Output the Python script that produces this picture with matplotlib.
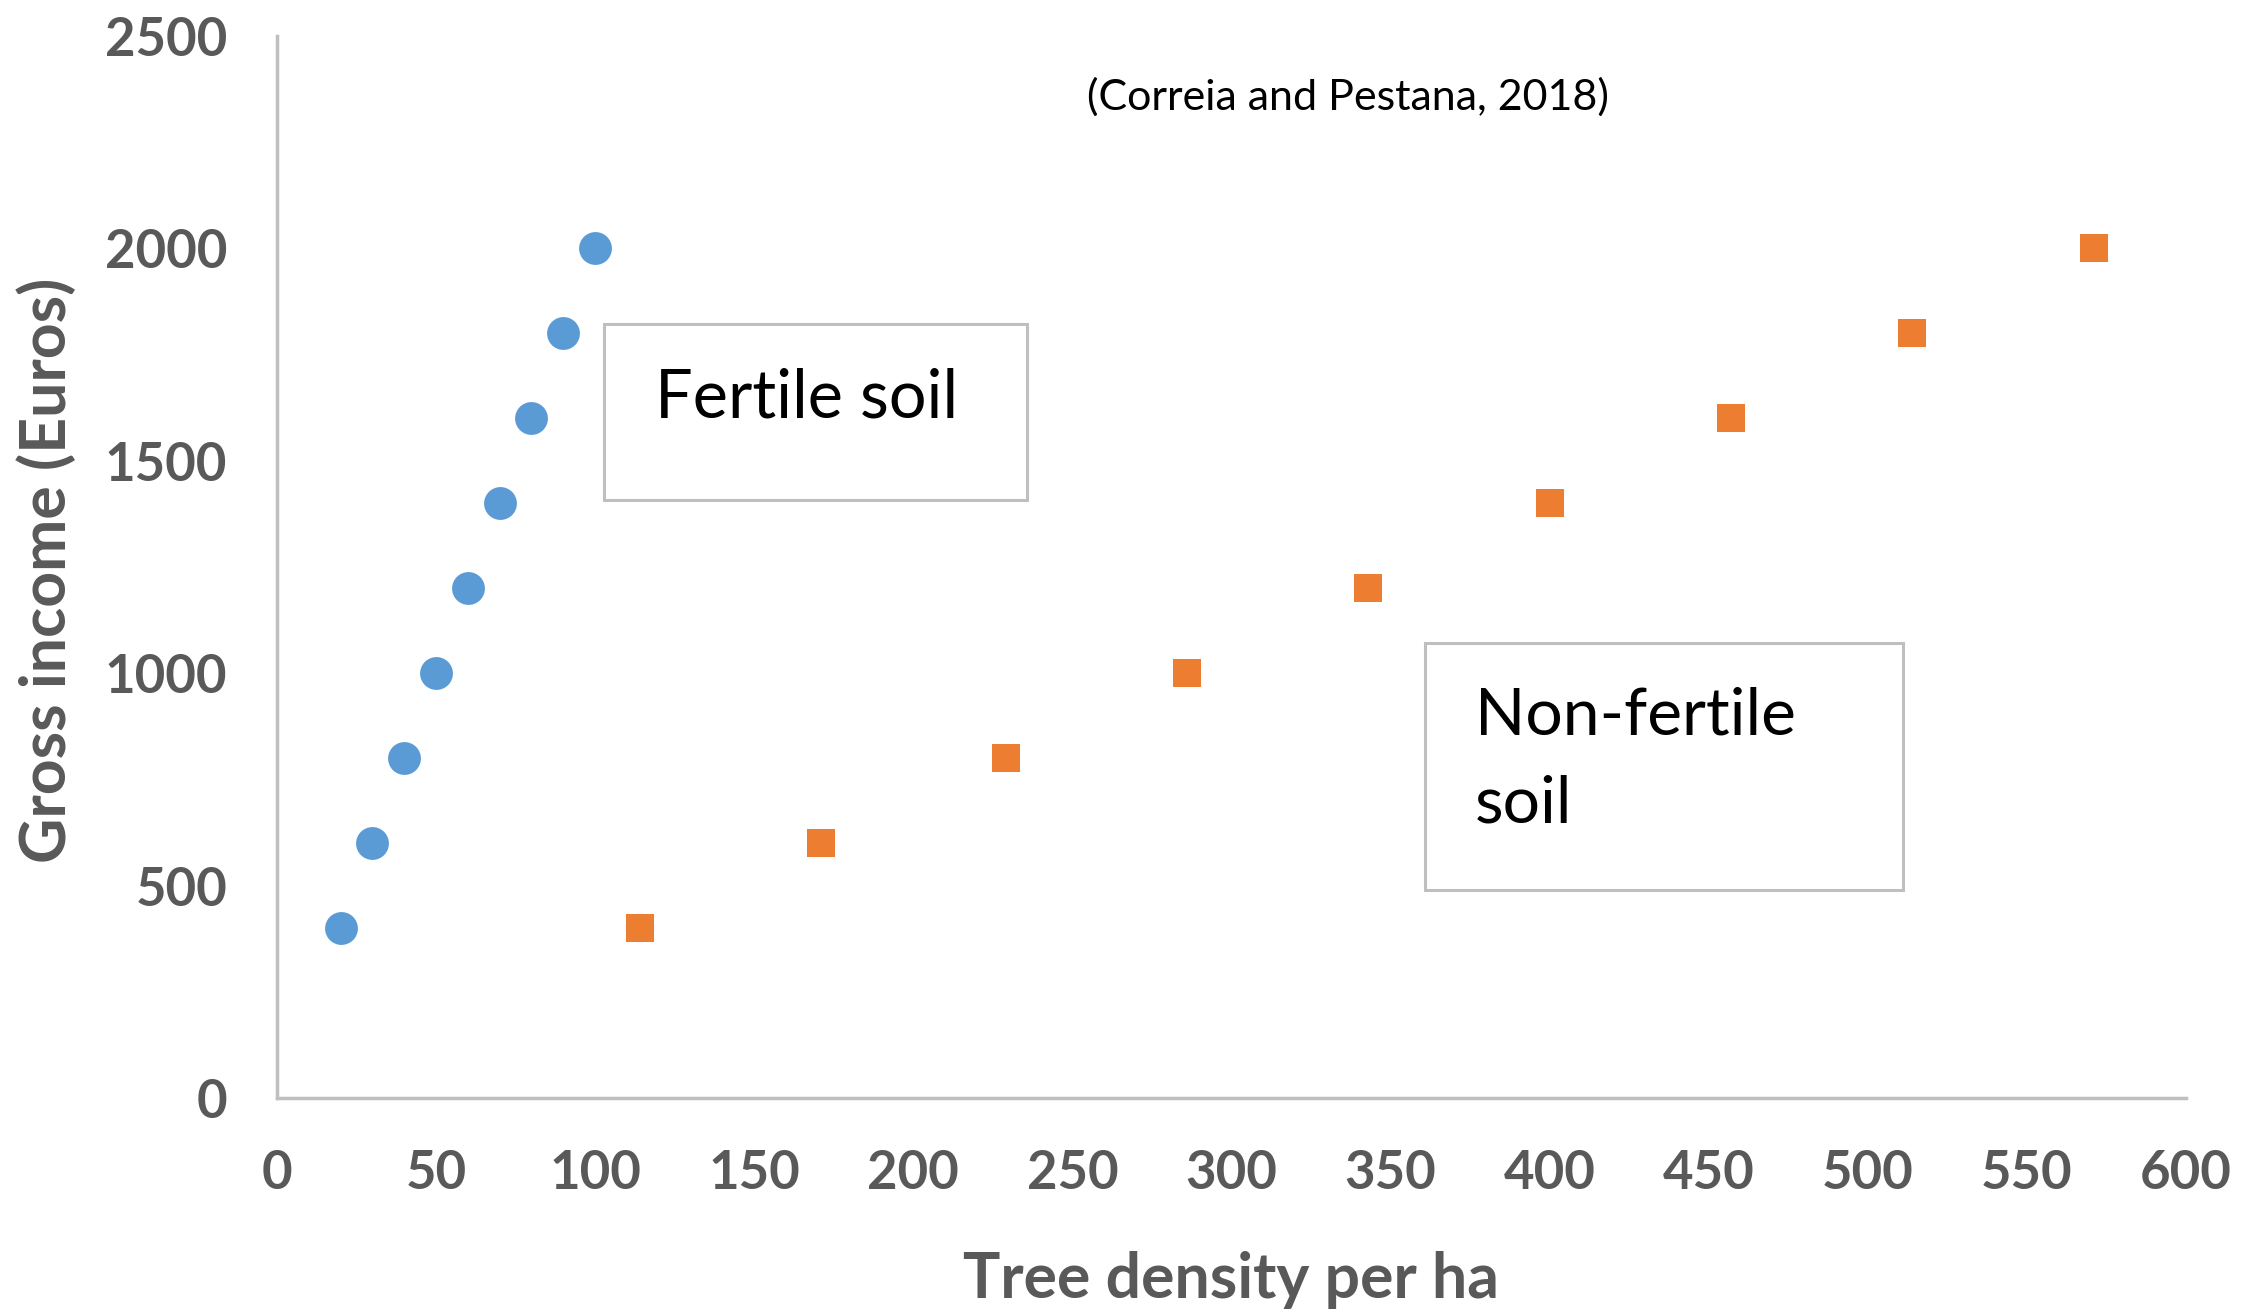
import matplotlib
matplotlib.use("Agg")
import matplotlib.pyplot as plt
from matplotlib.patches import Rectangle

# data
fertile_density = [20, 30, 40, 50, 60, 70, 80, 90, 100]
fertile_income = [400, 600, 800, 1000, 1200, 1400, 1600, 1800, 2000]
nonfertile_density = [114, 171, 229, 286, 343, 400, 457, 514, 571]
nonfertile_income = [400, 600, 800, 1000, 1200, 1400, 1600, 1800, 2000]
x_ticks = list(range(0, 601, 50))
y_ticks = list(range(0, 2501, 500))

plt.rcParams['font.family'] = ['Lato', 'DejaVu Sans']

fig = plt.figure(figsize=(22.59, 13.13), dpi=100)
ax = fig.add_axes([0.1226, 0.1637, 0.8451, 0.8089])

ax.scatter(fertile_density, fertile_income, s=560, marker='o',
           color='#5B9BD5', linewidths=0, zorder=3)
ax.scatter(nonfertile_density, nonfertile_income, s=420, marker='s',
           color='#ED7D31', linewidths=0, zorder=3)

ax.set_xlim(0, 600)
ax.set_ylim(0, 2500)
ax.set_xticks(x_ticks)
ax.set_yticks(y_ticks)
ax.tick_params(length=0, labelsize=38, labelcolor='#595959')
ax.tick_params(axis='x', pad=37)
ax.tick_params(axis='y', pad=36)
for lab in ax.get_xticklabels() + ax.get_yticklabels():
    lab.set_fontweight('bold')

for side in ['top', 'right']:
    ax.spines[side].set_visible(False)
for side in ['left', 'bottom']:
    ax.spines[side].set_color('#BFBFBF')
    ax.spines[side].set_linewidth(2.5)

# axis titles
fig.text(1231 / 2259, 1 - 1280 / 1313, "Tree density per ha", ha='center',
         va='center', fontsize=45, fontweight='bold', color='#595959')
fig.text(47 / 2259, 1 - 570 / 1313, "Gross income (Euros)", ha='center',
         va='center', rotation=90, fontsize=45, fontweight='bold',
         color='#595959')

# citation
ax.text(0.561, 0.9426, "(Correia and Pestana, 2018)", transform=ax.transAxes,
        ha='center', va='center', fontsize=31, color='black')

# label boxes
ax.add_patch(Rectangle((0.1713, 0.5631), 0.2216, 0.1657, transform=ax.transAxes,
                       fill=False, edgecolor='#BFBFBF', linewidth=2.2, zorder=4))
ax.text(0.198, 0.659, "Fertile soil", transform=ax.transAxes,
        ha='left', va='center', fontsize=48, color='black', zorder=5)

ax.add_patch(Rectangle((0.6014, 0.1959), 0.2504, 0.2325, transform=ax.transAxes,
                       fill=False, edgecolor='#BFBFBF', linewidth=2.2, zorder=4))
ax.text(0.6276, 0.318, "Non-fertile\nsoil", transform=ax.transAxes,
        ha='left', va='center', fontsize=47.5, color='black',
        linespacing=1.6, zorder=5)

fig.savefig("out.png", dpi=100)
